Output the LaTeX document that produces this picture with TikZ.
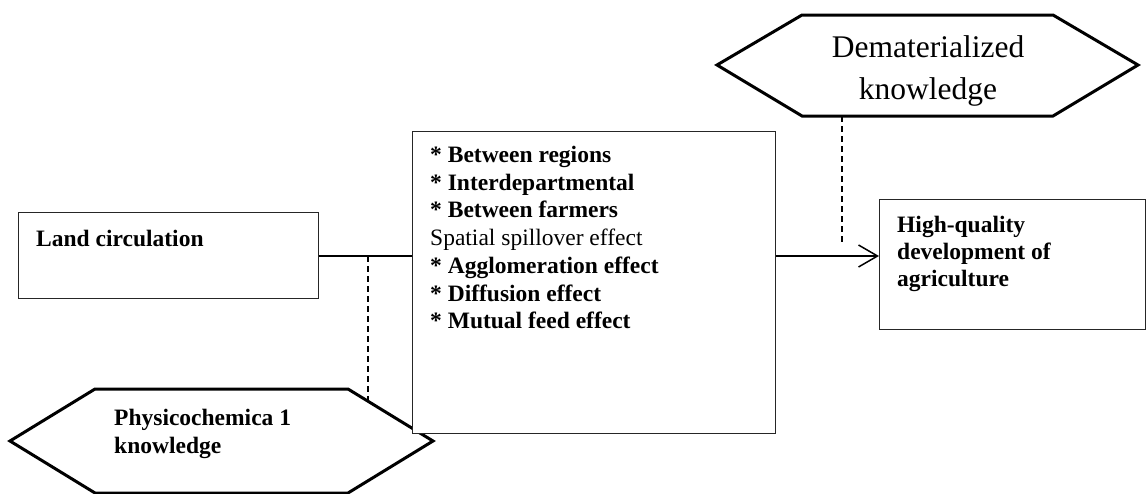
\documentclass[tikz,border=0pt]{standalone}
\usepackage{fontspec}
\setmainfont{Liberation Serif}
\usetikzlibrary{arrows.meta}

\begin{document}
\begin{tikzpicture}[x=1pt, y=-1pt,
  box/.style={draw=black!85, line width=0.9pt, fill=white, inner sep=0pt, anchor=north west},
  hexa/.style={draw=black, line width=3pt, line join=miter, fill=white},
  label/.style={inner sep=0pt, anchor=north west, align=left,
    font=\fontsize{23.5}{27.7}\selectfont\bfseries},
  link/.style={line width=1.5pt},
  dotlink/.style={line width=1.3pt, dash pattern=on 6pt off 4pt},
  arrowlink/.style={line width=1.5pt, -{Straight Barb[length=19pt, width=22pt, line width=1.5pt]}}
]
\useasboundingbox (0,0) rectangle (1148,493);

% lower hexagon: physico-chemical knowledge
\coordinate (phL) at (10,441);
\coordinate (phTL) at (95,389);
\coordinate (phTR) at (348,389);
\coordinate (phR) at (433,441);
\coordinate (phBR) at (348,493);
\coordinate (phBL) at (95,493);
\draw[hexa] (phL) -- (phTL) -- (phTR) -- (phR) -- (phBR) -- (phBL) -- cycle;
\node[label, font=\fontsize{23.5}{28}\selectfont\bfseries] (phtext) at (114,409)
  {Physicochemica 1\\knowledge};

% upper hexagon: dematerialized knowledge
\coordinate (dmL) at (717,65);
\coordinate (dmTL) at (802,15);
\coordinate (dmTR) at (1053,15);
\coordinate (dmR) at (1138,65);
\coordinate (dmBR) at (1053,116);
\coordinate (dmBL) at (802,116);
\draw[hexa] (dmL) -- (dmTL) -- (dmTR) -- (dmR) -- (dmBR) -- (dmBL) -- cycle;
\node[inner sep=0pt, anchor=north, align=center,
  font=\fontsize{31.5}{42}\selectfont] (dmtext) at (928,35)
  {Dematerialized\\knowledge};

% boxes
\node[box, minimum width=300pt, minimum height=86pt] (land) at (18,212) {};
\node[box, minimum width=363pt, minimum height=302pt] (center) at (412,131) {};
\node[box, minimum width=266pt, minimum height=130pt] (hq) at (879,199) {};

% box texts
\node[label] (landtext) at (36,230) {Land circulation};
\node[label] (centertext) at (430,146)
  {* Between regions\\
   * Interdepartmental\\
   * Between farmers\\
   \mdseries Spatial spillover effect\\
   * Agglomeration effect\\
   * Diffusion effect\\
   * Mutual feed effect};
\node[label, font=\fontsize{23.5}{27}\selectfont\bfseries] (hqtext) at (897,216)
  {High-quality\\development of\\agriculture};

% connectors
\coordinate (mainy) at (0,256);
\draw[link] (land.east |- mainy) -- (center.west |- mainy);
\draw[arrowlink] (center.east |- mainy) -- (hq.west |- mainy);

\coordinate (phjoin) at (368,256);
\coordinate (phend) at (368,401);
\draw[dotlink] (phjoin) -- (phend);

\coordinate (dmstart) at (842,116);
\coordinate (dmend) at (842,245);
\draw[dotlink] (dmstart) -- (dmend);
\end{tikzpicture}
\end{document}
